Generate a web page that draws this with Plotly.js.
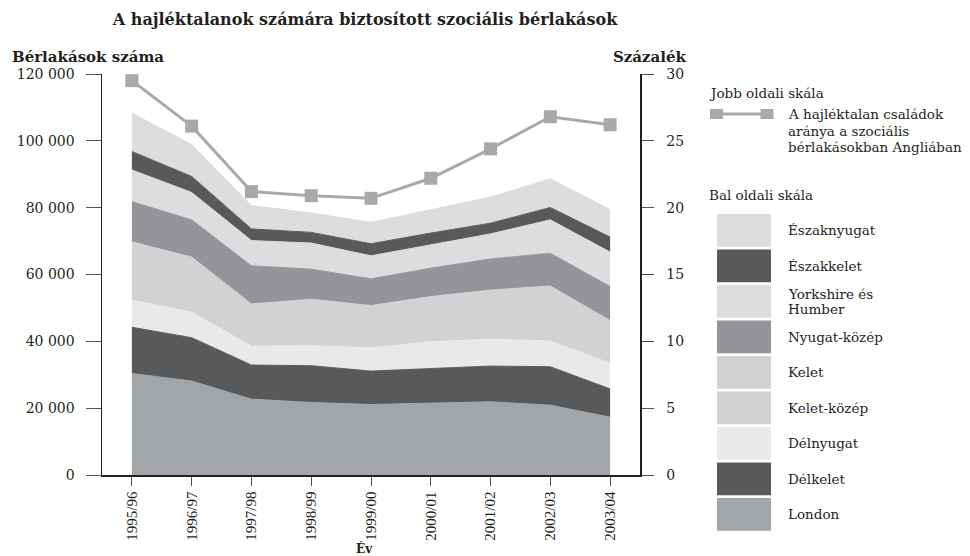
<!DOCTYPE html>
<html>
<head>
<meta charset="utf-8">
<script src="https://cdn.plot.ly/plotly-3.0.1.min.js"></script>
<style>
  html, body { margin: 0; padding: 0; background: #fff; }
  #chart { width: 970px; height: 556px; }
</style>
</head>
<body>
<div id="chart"></div>
<script>
// ---- Data ----
const years = ["1995/96", "1996/97", "1997/98", "1998/99", "1999/00", "2000/01", "2001/02", "2002/03", "2003/04"];

// Stacked series (bottom to top), number of social rented dwellings
const london       = [30400, 28100, 22700, 21700, 21100, 21400, 21900, 20900, 17300];
const delkelet     = [13800, 13000, 10200, 11000, 10000, 10500, 10700, 11500, 8450];
const delnyugat    = [8200, 7600, 5700, 6000, 7000, 8000, 8100, 7700, 7700];
const keletKozep   = [8500, 8200, 6300, 6900, 6300, 6700, 7300, 8200, 6350];
const kelet        = [8900, 8300, 6300, 7000, 6300, 6800, 7350, 8250, 6400];
const nyugatKozep  = [12000, 11150, 11400, 9000, 8000, 8500, 9300, 9800, 10200];
const yorkshire    = [9500, 8200, 7550, 7800, 6900, 7000, 7500, 10000, 10300];
const eszakkelet   = [5500, 4800, 3500, 3200, 3600, 3500, 3200, 3700, 4500];
const eszaknyugat  = [11500, 9500, 7000, 5800, 6400, 7000, 7800, 8600, 8200];

// Right scale: share of homeless families in social lettings in England (%)
const homelessShare = [29.5, 26.1, 21.2, 20.9, 20.7, 22.2, 24.4, 26.8, 26.2];

const seriesNames = ["London", "Délkelet", "Délnyugat", "Kelet-közép", "Kelet", "Nyugat-közép", "Yorkshire és Humber", "Északkelet", "Északnyugat"];
const seriesData  = [london, delkelet, delnyugat, keletKozep, kelet, nyugatKozep, yorkshire, eszakkelet, eszaknyugat];
const seriesColors = ["#a3a6a9", "#58595b", "#e8e9ea", "#d1d2d4", "#d1d2d4", "#939598", "#dcdddf", "#58595b", "#dcdddf"];
const legendLabels = [["London"], ["Délkelet"], ["Délnyugat"], ["Kelet-közép"], ["Kelet"], ["Nyugat-közép"], ["Yorkshire és", "Humber"], ["Északkelet"], ["Északnyugat"]];
const lineLabel = ["A hajléktalan családok", "aránya a szociális", "bérlakásokban Angliában"];

const leftTicks = [0, 20000, 40000, 60000, 80000, 100000, 120000];
const rightTicks = [0, 5, 10, 15, 20, 25, 30];

// ---- Layout helpers ----
const W = 970, H = 556;
const PL = 102, PR = 640, PT = 74, PB = 475;
const px = x => (x - PL) / (PR - PL);
const py = y => (PB - y) / (PB - PT);
const FONT = "DejaVu Serif, serif";
const FONT_NARROW = "Liberation Serif, Times New Roman, serif";
const TXT = "#231f20";
const LEG_SIZE = 13.5;

const traces = [];
seriesData.forEach((vals, i) => {
  traces.push({
    type: "scatter",
    x: years,
    y: vals,
    name: seriesNames[i],
    stackgroup: "one",
    mode: "lines",
    fillcolor: seriesColors[i],
    line: { width: 1, color: seriesColors[i] },
    showlegend: false,
    hoverinfo: "x+y+name"
  });
});
traces.push({
  type: "scatter",
  x: years,
  y: homelessShare,
  yaxis: "y2",
  mode: "lines+markers",
  line: { color: "#a7a9ac", width: 3 },
  marker: { symbol: "square", size: 13, color: "#a7a9ac" },
  name: lineLabel.join(" "),
  showlegend: false
});

const shapes = [];
const annotations = [];

// Axis titles
annotations.push({ xref: "paper", yref: "paper", x: px(10), y: py(57), xanchor: "left", yanchor: "middle",
  text: "<b>Bérlakások száma</b>", showarrow: false, font: { family: FONT, size: 15, color: TXT } });
annotations.push({ xref: "paper", yref: "paper", x: px(650), y: py(57), xanchor: "center", yanchor: "middle",
  text: "<b>Százalék</b>", showarrow: false, font: { family: FONT, size: 15, color: TXT } });
annotations.push({ xref: "paper", yref: "paper", x: px(364), y: py(548), xanchor: "center", yanchor: "middle",
  text: "<b>Év</b>", showarrow: false, font: { family: FONT, size: 12, color: TXT } });

// Legend: right scale
annotations.push({ xref: "paper", yref: "paper", x: px(707), y: py(93), xanchor: "left", yanchor: "middle",
  text: "Jobb oldali skála", showarrow: false, font: { family: FONT, size: LEG_SIZE, color: TXT } });
shapes.push({ type: "line", xref: "paper", yref: "paper", x0: px(710), x1: px(772), y0: py(114), y1: py(114),
  line: { color: "#a7a9ac", width: 3 } });
[716.5, 767].forEach(cx => {
  shapes.push({ type: "rect", xref: "paper", yref: "paper", x0: px(cx - 6.5), x1: px(cx + 6.5), y0: py(109), y1: py(119),
    fillcolor: "#a7a9ac", line: { width: 0 } });
});
lineLabel.forEach((t, k) => {
  annotations.push({ xref: "paper", yref: "paper", x: px(786), y: py(114 + k * 16.7), xanchor: "left", yanchor: "middle",
    text: t, showarrow: false, font: { family: FONT, size: LEG_SIZE, color: TXT } });
});

// Legend: left scale
annotations.push({ xref: "paper", yref: "paper", x: px(707), y: py(195), xanchor: "left", yanchor: "middle",
  text: "Bal oldali skála", showarrow: false, font: { family: FONT, size: LEG_SIZE, color: TXT } });
for (let k = 0; k < seriesNames.length; k++) {
  const i = seriesNames.length - 1 - k; // top to bottom
  const top = 214 + k * 35.5;
  shapes.push({ type: "rect", xref: "paper", yref: "paper", x0: px(717), x1: px(771), y0: py(top + 32.7), y1: py(top),
    fillcolor: seriesColors[i], line: { width: 0 } });
  const lines = legendLabels[i];
  const cy = top + 16.3;
  lines.forEach((t, j) => {
    const yy = cy + (j - (lines.length - 1) / 2) * 15;
    annotations.push({ xref: "paper", yref: "paper", x: px(786), y: py(yy), xanchor: "left", yanchor: "middle",
      text: t, showarrow: false, font: { family: FONT, size: LEG_SIZE, color: TXT } });
  });
}

const layout = {
  width: W, height: H,
  margin: { l: PL, r: W - PR, t: PT, b: H - PB, pad: 0 },
  paper_bgcolor: "#ffffff",
  plot_bgcolor: "#ffffff",
  separators: ", ",
  showlegend: false,
  title: {
    text: "<b>A hajléktalanok számára biztosított szociális bérlakások</b>",
    x: 365 / W, xanchor: "center", xref: "container",
    y: 1 - 19 / H, yanchor: "middle", yref: "container",
    font: { family: FONT, size: 16, color: TXT }
  },
  font: { family: FONT, size: 13.5, color: TXT },
  xaxis: {
    type: "category",
    range: [-0.5, years.length - 0.5],
    showline: true, linecolor: TXT, linewidth: 1.5,
    ticks: "outside", ticklen: 9, tickwidth: 1, tickcolor: "#555",
    tickangle: -90,
    tickfont: { family: FONT_NARROW, size: 15, color: TXT },
    showgrid: false, zeroline: false, fixedrange: true
  },
  yaxis: {
    range: [0, 120000],
    tickvals: leftTicks,
    tickformat: ",d",
    showline: true, linecolor: TXT, linewidth: 1.5,
    ticks: "outside", ticklen: 15, tickwidth: 1, tickcolor: "#555",
    ticklabelstandoff: 8,
    tickfont: { family: FONT, size: 14, color: TXT },
    showgrid: false, zeroline: false, fixedrange: true
  },
  yaxis2: {
    overlaying: "y", side: "right",
    range: [0, 30],
    tickvals: rightTicks,
    showline: true, linecolor: TXT, linewidth: 1.5,
    ticks: "outside", ticklen: 12, tickwidth: 1, tickcolor: "#555",
    ticklabelstandoff: 10,
    tickfont: { family: FONT, size: 14, color: TXT },
    showgrid: false, zeroline: false, fixedrange: true
  },
  shapes: shapes,
  annotations: annotations
};

Plotly.newPlot("chart", traces, layout, { displayModeBar: false, staticPlot: true });
</script>
</body>
</html>
